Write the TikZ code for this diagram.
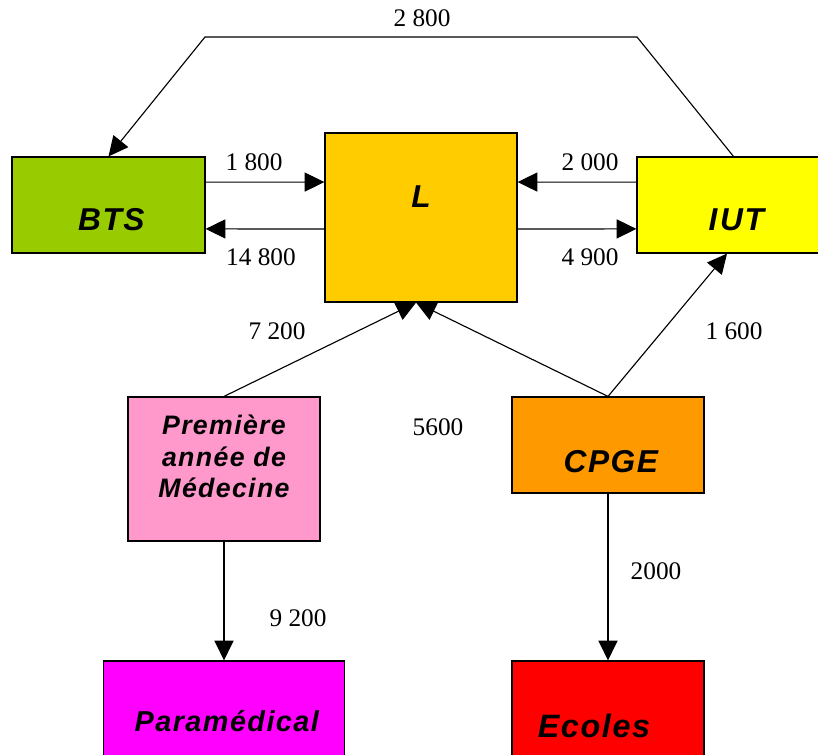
\documentclass[tikz,border=0pt]{standalone}
\usepackage{fontspec}
\setmainfont{Liberation Serif}
\setsansfont{Liberation Sans}
\usetikzlibrary{arrows.meta}
\usetikzlibrary{positioning}

\definecolor{vertbts}{HTML}{99CC00}
\definecolor{jauneL}{HTML}{FFCC00}
\definecolor{jauneiut}{HTML}{FFFF00}
\definecolor{rosemed}{HTML}{FF99CC}
\definecolor{orangecpge}{HTML}{FF9900}
\definecolor{magentapara}{HTML}{FF00FF}
\definecolor{rougeecol}{HTML}{FF0000}

\tikzset{
  filiere/.style={draw, line width=0.8pt, inner sep=0pt, minimum width=4.8cm, minimum height=2.4cm},
  nom/.style={font=\sffamily\bfseries\itshape\fontsize{#1}{22.7}\selectfont\addfontfeature{LetterSpace=5}},
  nom/.default=22.5,
  flux/.style={line width=0.8pt, -{Triangle[length=14pt,width=13.5pt]}},
  effectif/.style={font=\fontsize{18}{20}\selectfont, inner sep=0pt},
}

\begin{document}
\begin{tikzpicture}[x=0.025cm, y=-0.025cm]
  \useasboundingbox (0,0) rectangle (818,755);

  % les filieres
  \node (bts) [filiere, fill=vertbts, minimum width=4.825cm,
    label={[nom, yshift=-10.6pt, xshift=2pt]center:BTS}] at (108.5,205) {};
  \node (lic) [filiere, fill=jauneL, minimum height=4.225cm,
    label={[nom, yshift=14.5pt]center:L}] at (421,217.5) {};
  \node (iut) [filiere, fill=jauneiut, minimum width=4.825cm,
    label={[nom, yshift=-10.6pt, xshift=2pt]center:I\kern2pt UT}] at (733.5,205) {};
  \node (med) [filiere, fill=rosemed, minimum height=3.6cm,
    label={[nom=19, align=center, yshift=9pt]center:{Première\\année de\\Médecine}}] at (224,469) {};
  \node (cpge) [filiere, fill=orangecpge,
    label={[nom, yshift=-12pt, xshift=2pt]center:CPGE}] at (608,445) {};
  \node (para) [filiere, fill=magentapara, minimum width=6.025cm, minimum height=3cm,
    label={[nom=20.5, xshift=2pt]center:Paramédical}] at (224,721) {};
  \node (ecol) [filiere, fill=rougeecol, minimum height=3cm,
    label={[nom=23, xshift=-10pt, yshift=-3.5pt]center:Ecoles}] at (608,721) {};

  \coordinate (hd) at (637,37);
  \coordinate (hg) at (205,37);

  % les flux
  \draw[flux] (iut.north) -- (hd) -- (hg) -- (bts.north);
  \draw[flux] ([yshift=16.3pt]bts.east) -- ([yshift=25.2pt]lic.west);
  \draw[flux] ([yshift=-8.2pt]lic.west) -- ([yshift=-17pt]bts.east);
  \draw[flux] ([yshift=16.3pt]iut.west) -- ([yshift=25.2pt]lic.east);
  \draw[flux] ([yshift=-8.2pt]lic.east) -- ([yshift=-17pt]iut.west);
  \draw[flux] (med.north) -- ([xshift=-3.5pt]lic.south);
  \draw[flux] (cpge.north) -- ([xshift=-3.5pt]lic.south);
  \draw[flux] (cpge.north) -- ([xshift=-4.6pt]iut.south);
  \draw[flux] (med.south) -- (para.north);
  \draw[flux] (cpge.south) -- (ecol.north);

  % les effectifs
  \node (v2800) [effectif] at (422,18) {2 800};
  \node (v1800) [effectif] at (254,162) {1 800};
  \node (v14800) [effectif] at (261,257) {14 800};
  \node (v2000) [effectif] at (590,162) {2 000};
  \node (v4900) [effectif] at (590,257) {4 900};
  \node (v7200) [effectif] at (277,331) {7 200};
  \node (v5600) [effectif] at (438,427) {5600};
  \node (v1600) [effectif] at (734,331) {1 600};
  \node (v9200) [effectif] at (298,618) {9 200};
  \node (v2000b) [effectif] at (656,571) {2000};
\end{tikzpicture}
\end{document}
